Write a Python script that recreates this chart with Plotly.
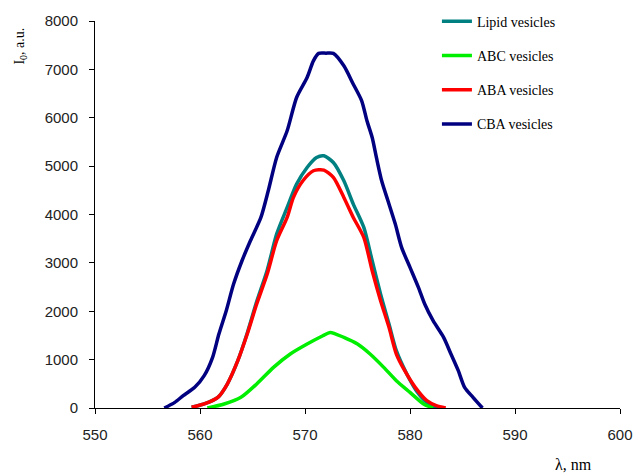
import plotly.graph_objects as go

# Emission spectra of the vesicle samples (wavelength, nm -> intensity, a.u.)
lipid_nm = [559.2, 560.4, 561.7, 562.6, 563.6, 564.5, 565.4, 566.4, 567.3, 568.3, 569.2,
            570.2, 571.1, 571.8, 572.7, 573.7, 574.6, 575.6, 576.4, 577.2, 578.0, 578.7,
            579.7, 580.6, 581.6, 582.5, 583.3]
lipid_i = [14, 83, 220, 496, 978, 1550, 2200, 2850, 3595, 4146, 4628,
           4972, 5179, 5213, 5076, 4697, 4215, 3733, 3044, 2355, 1736, 1185,
           702, 358, 117, 14, 0]

abc_nm = [560.7, 562.3, 563.9, 565.4, 567.0, 568.6, 570.2, 571.7, 572.4, 573.7, 575.0,
          576.2, 577.5, 578.7, 580.0, 581.3, 582.2]
abc_i = [0, 83, 220, 496, 840, 1116, 1322, 1494, 1563, 1460, 1322,
         1116, 840, 565, 324, 83, 0]

aba_nm = [559.2, 560.4, 561.7, 562.6, 563.6, 564.5, 565.4, 566.4, 567.3, 568.3, 568.9,
          569.8, 570.8, 571.8, 572.7, 573.7, 574.6, 575.6, 576.4, 577.2, 578.0, 578.7,
          579.5, 580.5, 581.6, 582.5, 583.4]
aba_i = [14, 83, 220, 496, 978, 1529, 2149, 2769, 3457, 3939, 4353,
         4697, 4904, 4917, 4766, 4353, 3939, 3526, 2837, 2218, 1667, 1116,
         771, 427, 152, 50, 0]

cba_nm = [556.6, 557.6, 558.4, 559.5, 560.4, 561.2, 561.8, 562.5, 563.2, 564.0, 564.8,
          565.8, 566.5, 567.3, 568.3, 569.2, 570.2, 570.8, 571.3, 572.0, 572.7, 573.7,
          574.6, 575.4, 575.9, 576.4, 576.8, 577.3, 577.9, 578.6, 579.2, 580.0, 580.8,
          581.4, 582.2, 583.2, 583.9, 584.6, 585.2, 586.0, 586.9]
cba_i = [0, 117, 255, 427, 668, 1047, 1529, 2011, 2562, 3044, 3457,
         3939, 4490, 5179, 5730, 6419, 6832, 7176, 7330, 7335, 7330, 7073,
         6694, 6350, 5937, 5592, 5179, 4697, 4284, 3802, 3320, 2906, 2493,
         2149, 1804, 1460, 1116, 771, 427, 220, 0]

series = [
    ("Lipid vesicles", lipid_nm, lipid_i, "#008080"),
    ("ABC vesicles", abc_nm, abc_i, "#00ee00"),
    ("ABA vesicles", aba_nm, aba_i, "#ff0000"),
    ("CBA vesicles", cba_nm, cba_i, "#000080"),
]

fig = go.Figure()
for name, xs, ys, color in series:
    fig.add_trace(go.Scatter(
        x=xs, y=ys, name=name, mode="lines", legendgroup=name,
        line=dict(color=color, width=3.5, shape="spline", smoothing=0.7),
    ))

axis_common = dict(
    showline=True, linecolor="black", linewidth=1,
    ticks="outside", ticklen=5, tickcolor="black", tickwidth=1,
    showgrid=False, zeroline=False, automargin=False,
    tickfont=dict(family="Liberation Sans", size=15, color="#222"),
)

fig.update_layout(
    width=636, height=474,
    margin=dict(l=95, r=16, t=21, b=66, pad=0, autoexpand=False),
    paper_bgcolor="white", plot_bgcolor="white",
    xaxis=dict(range=[550, 600], dtick=10, tick0=550, ticklabelstandoff=8, **axis_common),
    yaxis=dict(range=[0, 8000], dtick=1000, tick0=0, ticklabelstandoff=8, **axis_common),
    legend=dict(
        xref="container", yref="container",
        x=0.687, y=0.988, xanchor="left", yanchor="top",
        bgcolor="rgba(0,0,0,0)", tracegroupgap=13, itemwidth=30,
        font=dict(family="Liberation Serif", size=14, color="black"),
    ),
    annotations=[
        dict(text="I<sub>0</sub>, a.u.", xref="paper", yref="paper",
             x=-0.142, y=0.935, xanchor="center", yanchor="middle",
             textangle=-90, showarrow=False,
             font=dict(family="Liberation Serif", size=14, color="black")),
        dict(text="λ, nm", xref="paper", yref="paper",
             x=0.9105, y=-0.147, xanchor="center", yanchor="middle",
             showarrow=False,
             font=dict(family="Liberation Serif", size=16, color="black")),
    ],
)

fig.write_html("out.html")
